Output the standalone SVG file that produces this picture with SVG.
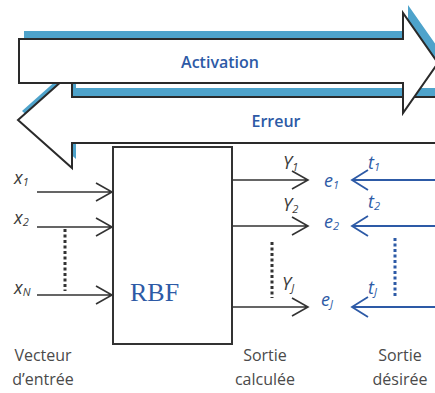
<svg xmlns="http://www.w3.org/2000/svg" width="435" height="393" viewBox="0 0 435 393">
<style>
.shadow{fill:#4ea3cb;stroke:none}
.big{fill:#fff;stroke:#2a2a2a;stroke-width:2;stroke-linejoin:miter}
.band{font-family:"Open Sans","Liberation Sans",sans-serif;font-size:16px;font-weight:600;fill:#2d5aa6;text-anchor:middle}
.lbl{font-family:"Open Sans","Liberation Sans",sans-serif;font-size:18px;font-style:italic;fill:#3a3a3a}
.blbl{font-family:"Open Sans","Liberation Sans",sans-serif;font-size:18px;font-style:italic;fill:#2d5aa6}
.sub{font-size:11px}
.cap{font-family:"Open Sans","Liberation Sans",sans-serif;font-size:16px;fill:#4a4a4a;text-anchor:middle}
.ln{stroke:#333;stroke-width:1.6;fill:none}
.bln{stroke:#2d5aa6;stroke-width:1.8;fill:none}
.dot{stroke:#333;stroke-width:3;stroke-dasharray:3 2.5;fill:none}
.bdot{stroke:#2d5aa6;stroke-width:3;stroke-dasharray:3 2.5;fill:none}
</style>
<g id="erreur">
<polygon class="shadow" transform="translate(4,-9)" points="18,120 72,72 72,97 440,97 440,143 72,143 72,168"/>
<polygon class="big" points="18,120 72,72 72,97 440,97 440,143 72,143 72,168"/>
<text class="band" x="276" y="127">Erreur</text>
</g>
<g id="activation">
<polygon class="shadow" transform="translate(5,-8)" points="19,39 403,39 403,13 438,63 403,113 403,83 19,83"/>
<polygon class="big" points="19,39 403,39 403,13 438,63 403,113 403,83 19,83"/>
<text class="band" x="220" y="68">Activation</text>
</g>
<g id="rbf">
<rect x="113" y="147" width="119" height="197" fill="#fff" stroke="#333" stroke-width="2"/>
<text x="130" y="301" font-family="Liberation Serif,serif" font-size="26" fill="#2d5aa6">RBF</text>
</g>
<g id="inputs">
<text class="lbl" x="14" y="184">x<tspan class="sub" dy="2">1</tspan></text>
<text class="lbl" x="14" y="224">x<tspan class="sub" dy="2">2</tspan></text>
<text class="lbl" x="14" y="294">x<tspan class="sub" dy="2">N</tspan></text>
</g>
<g id="outputs">
<text class="lbl" x="283" y="169">Y<tspan class="sub" dy="2">1</tspan></text>
<text class="lbl" x="283" y="211">Y<tspan class="sub" dy="2">2</tspan></text>
<text class="lbl" x="282" y="290">Y<tspan class="sub" dy="2">J</tspan></text>
</g>
<g id="errors">
<text class="blbl" x="324" y="187">e<tspan class="sub" dy="2">1</tspan></text>
<text class="blbl" x="324" y="228">e<tspan class="sub" dy="2">2</tspan></text>
<text class="blbl" x="321" y="306">e<tspan class="sub" dy="2">J</tspan></text>
</g>
<g id="targets">
<text class="blbl" x="368" y="169">t<tspan class="sub" dy="2">1</tspan></text>
<text class="blbl" x="368" y="208">t<tspan class="sub" dy="2">2</tspan></text>
<text class="blbl" x="368" y="294">t<tspan class="sub" dy="2">J</tspan></text>
</g>
<g id="captions">
<text class="cap" x="43" y="361">Vecteur</text>
<text class="cap" x="43" y="385">d’entrée</text>
<text class="cap" x="265" y="361">Sortie</text>
<text class="cap" x="265" y="385">calculée</text>
<text class="cap" x="400" y="361">Sortie</text>
<text class="cap" x="400" y="385">désirée</text>
</g>
<g id="connectors">
<path class="ln" d="M37,192H112M96,183L112,192L96,201"/>
<path class="ln" d="M37,227H112M96,218L112,227L96,236"/>
<path class="ln" d="M37,295H112M96,286L112,295L96,304"/>
<path class="dot" d="M65,229V291"/>
<path class="ln" d="M232,180H308M292,171L308,180L292,189"/>
<path class="ln" d="M232,226H308M292,217L308,226L292,235"/>
<path class="ln" d="M232,307H308M292,298L308,307L292,316"/>
<path class="dot" d="M272,242V298"/>
<path class="bln" d="M435,180H352M368,170L352,180L368,190"/>
<path class="bln" d="M435,226H352M368,216L352,226L368,236"/>
<path class="bln" d="M435,307H352M368,297L352,307L368,317"/>
<path class="bdot" d="M395,238V296"/>
</g>
</svg>
